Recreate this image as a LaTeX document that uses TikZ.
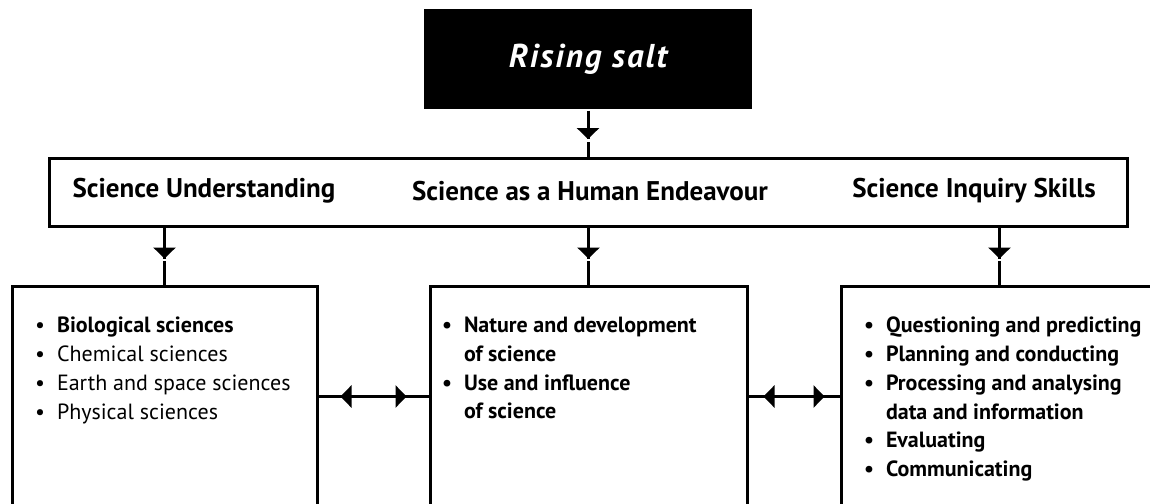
\documentclass[tikz,border=0pt]{standalone}
\usepackage{fontspec}
\setmainfont{PT Sans}
\usetikzlibrary{arrows.meta,decorations.markings}

\newcommand{\bul}{\makebox[22pt][l]{\textbullet}}
\newcommand{\ind}{\hspace*{22pt}}

\begin{document}
\begin{tikzpicture}
[x=1pt,y=-1pt,line width=3pt,%
  tip/.tip={Triangle[width=22pt,length=11pt]},%
  strandbox/.style={draw,minimum width=1078pt,minimum height=68pt},%
  strand/.style={font=\bfseries\fontsize{27}{32}\selectfont},%
  listbox/.style={draw,anchor=north west,minimum height=221pt},%
  list/.style={anchor=north west,inner sep=0pt,align=left,%
    font=\fontsize{22}{28.8}\selectfont},%
  downlink/.style={postaction={decorate},decoration={markings,%
    mark=at position #1 with {\arrow{tip};
      \fill[white] (0pt,-2pt) rectangle (2.5pt,2pt);}}},%
  twolink/.style={postaction={decorate},decoration={markings,%
    mark=at position #1 with {\arrowreversed{tip}},%
    mark=at position -#1 with {\arrow{tip}}}}]
\clip (0,0) rectangle (1150,503);
\node[fill=black,text=white,minimum width=328pt,minimum height=100pt,
  font=\bfseries\itshape\fontsize{33}{38}\selectfont\addfontfeature{LetterSpace=6}]
  (title) at (588,59) {Rising salt};
\node[strandbox] (strands) at (588,192.5) {};
\node[strand] (su) at (204,191) {Science Understanding};
\node[strand] (she) at (590,191) {Science as a Human Endeavour};
\node[strand] (sis) at (974,191) {Science Inquiry Skills};
\node[listbox,minimum width=305pt] (bio) at (10.5,284.5) {};
\node[listbox,minimum width=317pt] (nat) at (428.5,284.5) {};
\node[listbox,minimum width=317pt] (inq) at (839.5,284.5) {};
\node[list] (biolist) at ([shift={(23,31)}]bio.north west)
  {\bul\textbf{Biological sciences}\\
   \bul Chemical sciences\\
   \bul Earth and space sciences\\
   \bul Physical sciences};
\node[list,font=\bfseries\fontsize{22}{28.8}\selectfont] (natlist)
  at ([shift={(12,31)}]nat.north west)
  {\bul Nature and development\\
   \ind of science\\
   \bul Use and influence\\
   \ind of science};
\node[list,font=\bfseries\fontsize{22}{28.8}\selectfont] (inqlist)
  at ([shift={(23,31)}]inq.north west)
  {\bul Questioning and predicting\\
   \bul Planning and conducting\\
   \bul Processing and analysing\\
   \ind data and information\\
   \bul Evaluating\\
   \bul Communicating};
\draw[downlink=28.5pt] (title.south) -- (strands.north);
\draw[downlink=30.5pt] (strands.south -| bio.north) -- (bio.north);
\draw[downlink=30.5pt] (strands.south -| nat.north) -- (nat.north);
\draw[downlink=30.5pt] (strands.south -| inq.north) -- (inq.north);
\draw[twolink=22pt] (bio.east) -- (nat.west);
\draw[twolink=15pt] (nat.east) -- (inq.west);
\end{tikzpicture}
\end{document}
